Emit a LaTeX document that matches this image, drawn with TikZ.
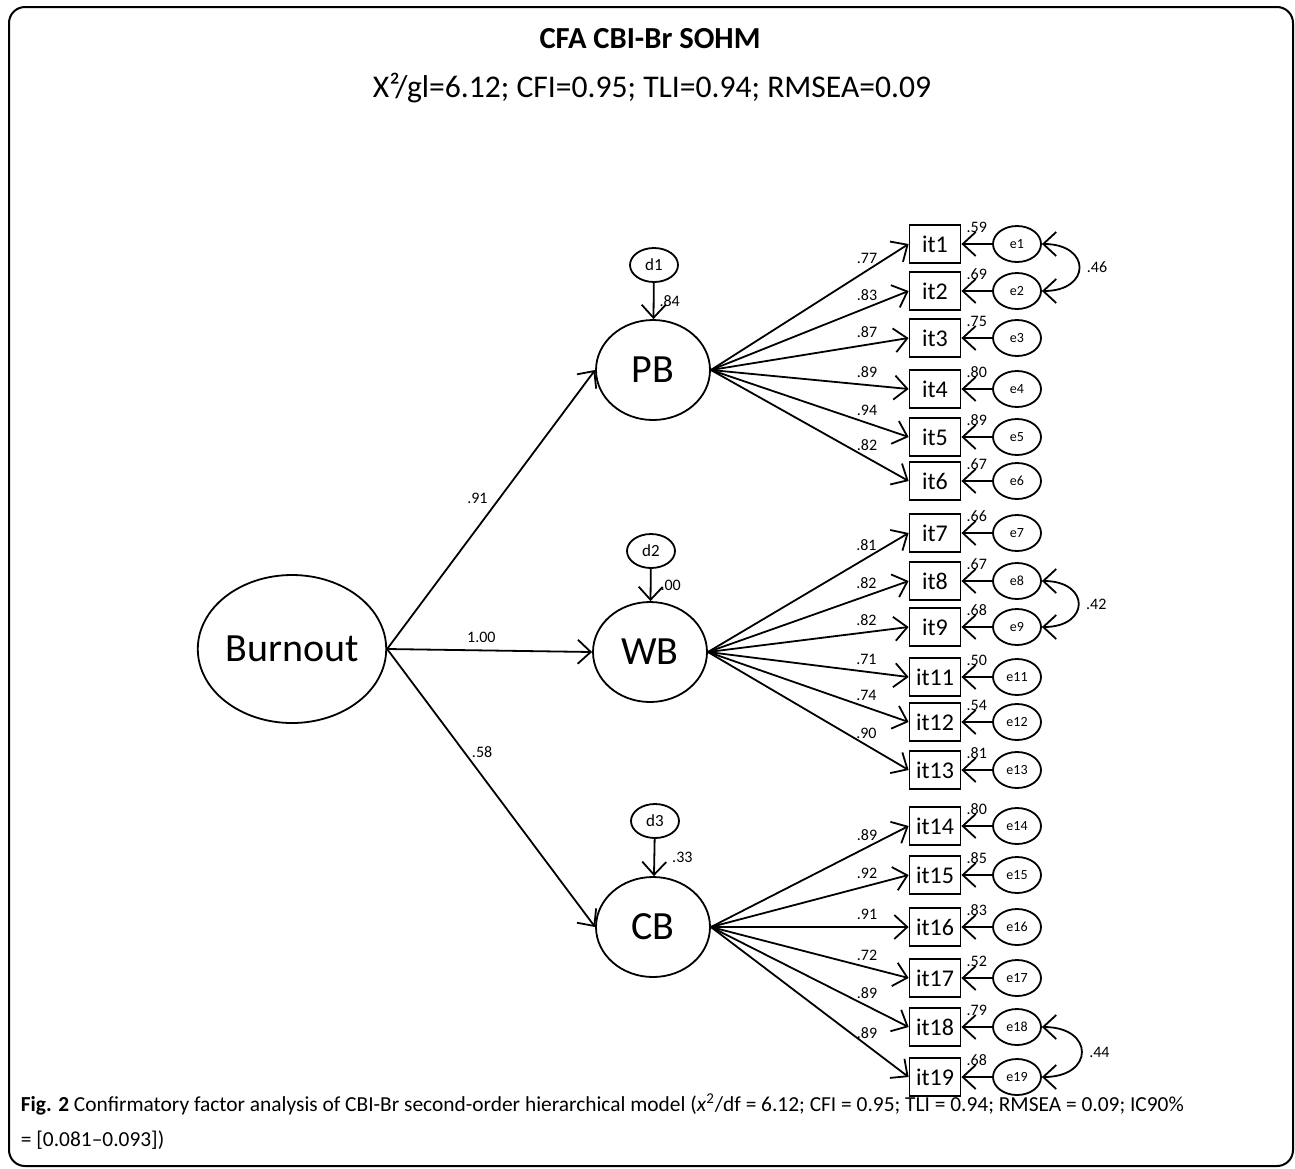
\documentclass[tikz,border=0pt]{standalone}
\usepackage{fontspec}
\setmainfont{Carlito}
\usetikzlibrary{arrows.meta, shapes.geometric, positioning}

\begin{document}
\begin{tikzpicture}[
    x=0.5pt, y=-0.5pt,
    line width=0.9pt,
    >={Straight Barb[length=6.5pt, width=12pt]},
    lat/.style={ellipse, draw, minimum width=57pt, minimum height=50pt, inner sep=0pt, font=\fontsize{20}{20}\selectfont},
    dist/.style={ellipse, draw, minimum width=24pt, minimum height=17pt, inner sep=0pt, font=\fontsize{8.5}{9}\selectfont},
    err/.style={ellipse, draw, minimum width=24pt, minimum height=18pt, inner sep=0pt, font=\fontsize{7}{8}\selectfont},
    obs/.style={rectangle, draw, minimum width=25.5pt, minimum height=19pt, inner sep=0pt, font=\fontsize{12}{12}\selectfont},
    lbl/.style={font=\fontsize{8}{8}\selectfont, inner sep=0.5pt},
]
    \useasboundingbox (0,0) rectangle (1295,1168);

    % frame
    \draw[line width=1pt, rounded corners=8pt] (9,7) rectangle (1293,1166);

    % title
    \node[font=\bfseries\fontsize{15.3}{15.3}\selectfont] (title) at (650,39) {CFA CBI-Br SOHM};
    \node[font=\fontsize{15.8}{15.8}\selectfont] (fit) at (652,88) {X²/gl=6.12; CFI=0.95; TLI=0.94; RMSEA=0.09};

    % latent variables
    \node[lat, minimum width=94pt, minimum height=74pt] (burnout) at (292,649) {Burnout};
    \node[lat] (PB) at (653,370) {PB};
    \node[lat] (WB) at (650,652) {WB};
    \node[lat] (CB) at (653,927) {CB};

    % disturbances
    \node[dist] (d1) at (654,265) {d1};
    \node[dist] (d2) at (651,551) {d2};
    \node[dist] (d3) at (655,821) {d3};

    \draw[->] (d1) -- node[lbl, right=2pt] {.84} (PB);
    \draw[->] (d2) -- node[lbl, right=4pt] {.00} (WB);
    \draw[->] (d3) -- node[lbl, right=8pt] {.33} (CB);

    % second order
    \draw[->] (burnout.east) -- node[lbl, pos=.54, left=5pt] {.91} (PB.west);
    \draw[->] (burnout.east) -- node[lbl, pos=.46, above=3pt] {1.00} (WB.west);
    \draw[->] (burnout.east) -- node[lbl, pos=.37, right=3pt] {.58} (CB.west);

    % PB items
    \foreach \n/\y/\ld/\rv in {1/244/.77/.59, 2/291/.83/.69, 3/338/.87/.75,
                               4/389/.89/.80, 5/437/.94/.89, 6/481/.82/.67}
    {
        \node[obs] (it\n) at (935,\y) {it\n};
        \node[err] (e\n) at (1017,\y) {e\n};
        \draw[->] (PB.east) -- node[lbl, pos=.79, above=2.5pt] {\ld} (it\n.west);
        \draw[->] (e\n) -- node[lbl, midway, above=4.5pt] {\rv} (it\n);
    }

    % WB items
    \foreach \n/\y/\ld/\rv in {7/533/.81/.66, 8/581/.82/.67, 9/627/.82/.68,
                               11/677/.71/.50, 12/722/.74/.54, 13/770/.90/.81}
    {
        \node[obs] (it\n) at (935,\y) {it\n};
        \node[err] (e\n) at (1017,\y) {e\n};
        \draw[->] (WB.east) -- node[lbl, pos=.79, above=2.5pt] {\ld} (it\n.west);
        \draw[->] (e\n) -- node[lbl, midway, above=4.5pt] {\rv} (it\n);
    }

    % CB items
    \foreach \n/\y/\ld/\rv in {14/826/.89/.80, 15/875/.92/.85, 16/927/.91/.83,
                               17/978/.72/.52, 18/1027/.89/.79, 19/1077/.89/.68}
    {
        \node[obs] (it\n) at (935,\y) {it\n};
        \node[err] (e\n) at (1017,\y) {e\n};
        \draw[->] (CB.east) -- node[lbl, pos=.79, above=2.5pt] {\ld} (it\n.west);
        \draw[->] (e\n) -- node[lbl, midway, above=4.5pt] {\rv} (it\n);
    }

    % correlated errors
    \draw[<->] (e1.east) to[out=0, in=0, looseness=2.7] node[lbl, right=3pt] {.46} (e2.east);
    \draw[<->] (e8.east) to[out=0, in=0, looseness=2.7] node[lbl, right=3pt] {.42} (e9.east);
    \draw[<->] (e18.east) to[out=0, in=0, looseness=2.7] node[lbl, right=3pt] {.44} (e19.east);

    % caption
    \node[anchor=north west, align=left, inner sep=0pt, font=\fontsize{10.7}{17.5}\selectfont] (caption) at (20,1093)
        {\textbf{Fig. 2} Confirmatory factor analysis of CBI-Br second-order hierarchical model (\textit{x}\textsuperscript{2}/df = 6.12; CFI = 0.95; TLI = 0.94; RMSEA = 0.09; IC90\%\\
         = [0.081–0.093])};
\end{tikzpicture}
\end{document}
